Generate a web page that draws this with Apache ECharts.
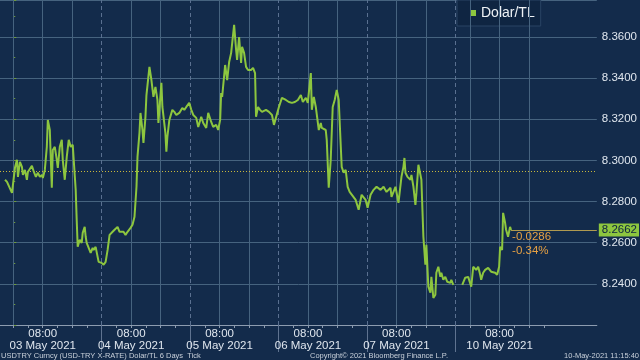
<!DOCTYPE html>
<html><head><meta charset="utf-8">
<script src="https://cdn.jsdelivr.net/npm/echarts@6/dist/echarts.min.js"></script>
<style>html,body{margin:0;padding:0;background:#132b4b;}#c{width:640px;height:360px;}</style>
</head><body><div id="c"></div>
<script>
// Hours on the compressed trading axis (0 = 03 May 00:00, 120 = Sunday 20:00 before 10 May)
const sessionHours = [
-2.24,-1.70,-0.35,0.46,1.00,1.27,1.81,2.35,2.62,3.16,3.70,3.97,4.51,5.06,5.60,6.14,6.68,7.22,7.76,8.03,
8.57,9.11,9.38,9.92,10.46,10.73,11.27,11.82,12.09,12.63,13.17,13.44,13.98,14.52,15.06,15.60,16.14,16.41,16.95,17.22,
17.49,18.04,18.58,18.85,19.39,19.66,19.93,20.47,21.01,21.55,21.82,22.36,22.90,23.17,23.98,24.53,25.07,25.61,26.15,26.96,
27.50,28.31,28.85,29.39,29.93,30.47,31.02,31.83,32.37,32.91,33.45,33.72,34.26,34.53,35.07,35.34,35.88,36.15,36.96,37.50,
38.05,38.59,39.13,39.40,40.21,40.48,41.29,41.56,41.83,42.37,43.18,43.72,44.26,45.07,45.88,46.43,46.97,47.78,48.32,48.86,
49.67,50.21,51.02,51.57,52.38,52.92,53.73,54.27,55.08,55.62,56.16,56.43,56.70,57.51,58.06,58.60,59.14,59.95,60.49,60.76,
61.30,61.84,62.11,62.65,63.19,63.73,64.54,65.09,65.63,65.90,66.44,66.98,67.52,68.60,69.41,70.22,70.76,71.30,72.11,72.92,
74.00,74.82,75.63,76.44,77.25,78.06,78.60,79.41,79.95,80.77,81.04,81.58,82.12,82.93,83.47,83.74,84.82,85.09,85.63,86.17,
86.71,87.25,87.80,88.34,88.88,89.15,89.69,90.23,90.77,91.31,91.85,92.94,93.75,94.56,95.64,96.18,96.99,97.80,98.61,99.70,
100.51,101.32,102.40,102.67,103.75,104.56,105.37,105.91,106.18,106.46,107.00,107.81,108.08,108.62,109.16,109.43,109.97,110.51,110.78,111.32,
111.86,112.13,112.67,113.22,113.49,114.03,114.57,114.84,115.38,115.92,116.19,116.73,117.27,117.81,118.63,118.90,119.44,120.00,
121.87,122.68,123.49,124.31,124.85,125.39,125.66,126.20,126.74,127.01,127.55,128.09,128.90,129.71,130.80,131.34,131.88,132.15,132.69,132.96,
133.50,133.77,134.31,134.85,135.12
];
const rates = [
8.2906,8.2896,8.2842,8.2964,8.3003,8.2920,8.2993,8.2969,8.2930,8.2954,8.2906,8.2944,8.2940,8.2974,8.2944,8.2920,8.2940,8.2920,8.2930,8.2915,
8.2954,8.3066,8.3197,8.3148,8.2867,8.3051,8.3066,8.3003,8.2964,8.3066,8.3100,8.3003,8.2906,8.3017,8.3100,8.3066,8.3076,8.3003,8.2857,8.2711,
8.2580,8.2614,8.2599,8.2648,8.2677,8.2629,8.2599,8.2590,8.2551,8.2575,8.2565,8.2580,8.2575,8.2507,8.2502,8.2493,8.2507,8.2565,8.2638,8.2653,
8.2663,8.2677,8.2653,8.2648,8.2653,8.2638,8.2653,8.2672,8.2687,8.2726,8.2872,8.3017,8.3134,8.3231,8.3148,8.3085,8.3212,8.3318,8.3455,8.3391,
8.3309,8.3357,8.3294,8.3182,8.3377,8.3260,8.3134,8.3042,8.3114,8.3197,8.3246,8.3236,8.3221,8.3231,8.3255,8.3246,8.3260,8.3280,8.3246,8.3221,
8.3207,8.3163,8.3212,8.3182,8.3158,8.3231,8.3187,8.3163,8.3173,8.3148,8.3197,8.3328,8.3309,8.3464,8.3391,8.3479,8.3523,8.3659,8.3537,8.3489,
8.3600,8.3474,8.3552,8.3523,8.3455,8.3440,8.3440,8.3450,8.3425,8.3212,8.3260,8.3246,8.3236,8.3246,8.3236,8.3221,8.3173,8.3182,8.3260,8.3304,
8.3294,8.3284,8.3280,8.3284,8.3294,8.3318,8.3284,8.3304,8.3280,8.3425,8.3246,8.3309,8.3260,8.3148,8.3182,8.3158,8.3148,8.3100,8.2867,8.3003,
8.3260,8.3294,8.3343,8.3294,8.3076,8.2969,8.2940,8.2954,8.2872,8.2847,8.2842,8.2808,8.2760,8.2833,8.2808,8.2770,8.2833,8.2857,8.2872,8.2857,
8.2872,8.2847,8.2867,8.2823,8.2872,8.2794,8.2920,8.2969,8.3012,8.2940,8.2920,8.2906,8.2930,8.2872,8.2784,8.2842,8.2979,8.2988,8.2906,8.2629,
8.2493,8.2590,8.2386,8.2357,8.2434,8.2332,8.2347,8.2454,8.2483,8.2434,8.2454,8.2420,8.2434,8.2410,8.2405,8.2420,8.2395,null,
8.2395,8.2430,8.2434,8.2386,8.2483,8.2478,8.2468,8.2483,8.2444,8.2420,8.2454,8.2468,8.2478,8.2459,8.2454,8.2444,8.2483,8.2580,8.2565,8.2745,
8.2697,8.2663,8.2629,8.2677,8.2662
];
const dayLabels = ['03 May 2021','04 May 2021','05 May 2021','06 May 2021','07 May 2021','10 May 2021'];
const labelHours = [8,32,56,80,104,132];
const daySplitHours = [24,48,72,96,120];
const gridHours = [0,8,16,32,40,56,64,80,88,104,112,124,132,140];
const tickHours = [0,4,8,12,16,20,24,28,32,36,40,44,48,52,56,60,64,68,72,76,80,84,88,92,96,100,104,108,112,116,120,124,128,132,136,140,144];
const yTickLabels = ['8.2400','8.2600','8.2800','8.3000','8.3200','8.3400','8.3600'];
const seriesName = 'Dolar/TL';
const lastPrice = 8.2662;
const prevClose = 8.2948;
const netChange = '-0.0286';
const pctChange = '-0.34%';
const footerLeft = 'USDTRY Curncy (USD-TRY X-RATE) Dolar/TL 6 Days  Tick';
const footerMid = 'Copyright\u00A9 2021 Bloomberg Finance L.P.';
const footerRight = '10-May-2021 11:15:40';

const X_MIN = -3.6, X_MAX = 158.4;
const FONT = '"Liberation Sans", Arial, sans-serif';
const TXT = '#dfe6ee';
const lineData = sessionHours.map((h, i) => [h, rates[i]]);
const lastH = sessionHours[sessionHours.length - 1];

const chart = echarts.init(document.getElementById('c'), null, {renderer: 'canvas'});
chart.setOption({
  backgroundColor: '#132b4b',
  animation: false,
  textStyle: {fontFamily: FONT},
  grid: {left: 0, right: 41, top: 0, bottom: 35},
  legend: {
    data: [seriesName], left: 457, top: 0,
    padding: [6, 6, 6, 13],
    itemWidth: 6, itemHeight: 6, icon: 'rect',
    backgroundColor: '#0f2542', borderColor: '#2a4465', borderWidth: 1,
    textStyle: {color: '#eef2f6', fontSize: 14, fontFamily: FONT},
    selectedMode: false
  },
  xAxis: [{
    type: 'value', min: X_MIN, max: X_MAX, position: 'bottom',
    axisLine: {show: true, lineStyle: {color: '#8d9cb0', width: 1}},
    axisTick: {show: true, customValues: tickHours, length: 3, lineStyle: {color: '#8d9cb0'}},
    axisLabel: {
      customValues: labelHours,
      formatter: v => '08:00\n' + dayLabels[labelHours.indexOf(v)],
      color: TXT, fontSize: 11.5, lineHeight: 12, margin: 3, fontFamily: FONT
    },
    splitLine: {show: false}
  }, {
    type: 'value', min: X_MIN, max: X_MAX, position: 'bottom', offset: 0,
    axisLine: {show: false},
    axisTick: {show: true, customValues: daySplitHours, length: 27, lineStyle: {color: '#5f7390'}},
    axisLabel: {show: false},
    splitLine: {show: false}
  }],
  yAxis: {
    type: 'value', position: 'right', min: 8.22, max: 8.378, interval: 0.02,
    axisLine: {show: true, lineStyle: {color: '#6e9a3a'}},
    axisTick: {show: true, length: 3, lineStyle: {color: '#6e9a3a'}},
    minorTick: {show: true, splitNumber: 2, length: 2, lineStyle: {color: '#6e9a3a'}},
    axisLabel: {
      formatter: v => { const s = v.toFixed(4); return yTickLabels.indexOf(s) >= 0 ? s : ''; },
      color: TXT, fontSize: 11.5, margin: 5, fontFamily: FONT,
      showMinLabel: false, showMaxLabel: false
    },
    splitLine: {show: true, lineStyle: {color: '#46637f', width: 1}}
  },
  series: [{
    type: 'line', name: 'grid', data: [], silent: true, z: 1,
    markLine: {
      silent: true, symbol: 'none', label: {show: false}, animation: false,
      lineStyle: {color: '#46637f', type: 'solid', width: 1},
      data: gridHours.map(h => ({xAxis: h}))
    }
  }, {
    type: 'line', name: 'days', data: [], silent: true, z: 1,
    markLine: {
      silent: true, symbol: 'none', label: {show: false}, animation: false,
      lineStyle: {color: '#5a7090', type: [4, 3], width: 1},
      data: daySplitHours.map(h => ({xAxis: h}))
    }
  }, {
    type: 'line', name: 'prev', data: [], silent: true, z: 2,
    markLine: {
      silent: true, symbol: 'none', label: {show: false}, animation: false,
      lineStyle: {color: '#c9b83c', type: [1, 2], width: 1},
      data: [[{coord: [X_MIN, prevClose]}, {coord: [X_MAX, prevClose]}]]
    }
  }, {
    type: 'line', name: seriesName, data: lineData, z: 5,
    showSymbol: false, connectNulls: false,
    itemStyle: {color: '#8dc63f'},
    lineStyle: {color: '#8dc63f', width: 2},
    markLine: {
      silent: true, symbol: 'none', animation: false,
      data: [
        [
          {coord: [lastH, lastPrice], lineStyle: {color: '#b09a50', type: 'solid', width: 1},
           label: {show: true, position: 'end', formatter: lastPrice.toFixed(4), distance: 2,
                   backgroundColor: '#8dc63f', color: '#0e2240', padding: [1, 2, 0, 3],
                   fontSize: 11.5, fontFamily: FONT}},
          {coord: [X_MAX, lastPrice]}
        ]
      ]
    },
    markPoint: {
      silent: true, symbol: 'circle', symbolSize: 0, animation: false,
      data: [{coord: [lastH, lastPrice]}],
      label: {
        show: true, position: 'right', distance: 1, offset: [0, 14],
        formatter: netChange + '\n' + pctChange,
        color: '#e6a043', fontSize: 11.5, lineHeight: 14, fontFamily: FONT
      }
    }
  }],
  graphic: [
    {type: 'rect', shape: {x: 464, y: 12, width: 3, height: 3}, style: {fill: '#5f708a'}},
    {type: 'text', left: 1, top: 352, style: {text: footerLeft, fill: '#c8d0da', fontSize: 7.5, fontFamily: FONT}},
    {type: 'text', left: 310, top: 352, style: {text: footerMid, fill: '#c8d0da', fontSize: 7.5, fontFamily: FONT}},
    {type: 'text', right: 1, top: 352, style: {text: footerRight, fill: '#c8d0da', fontSize: 7.5, fontFamily: FONT}}
  ]
});
</script>
</body></html>
